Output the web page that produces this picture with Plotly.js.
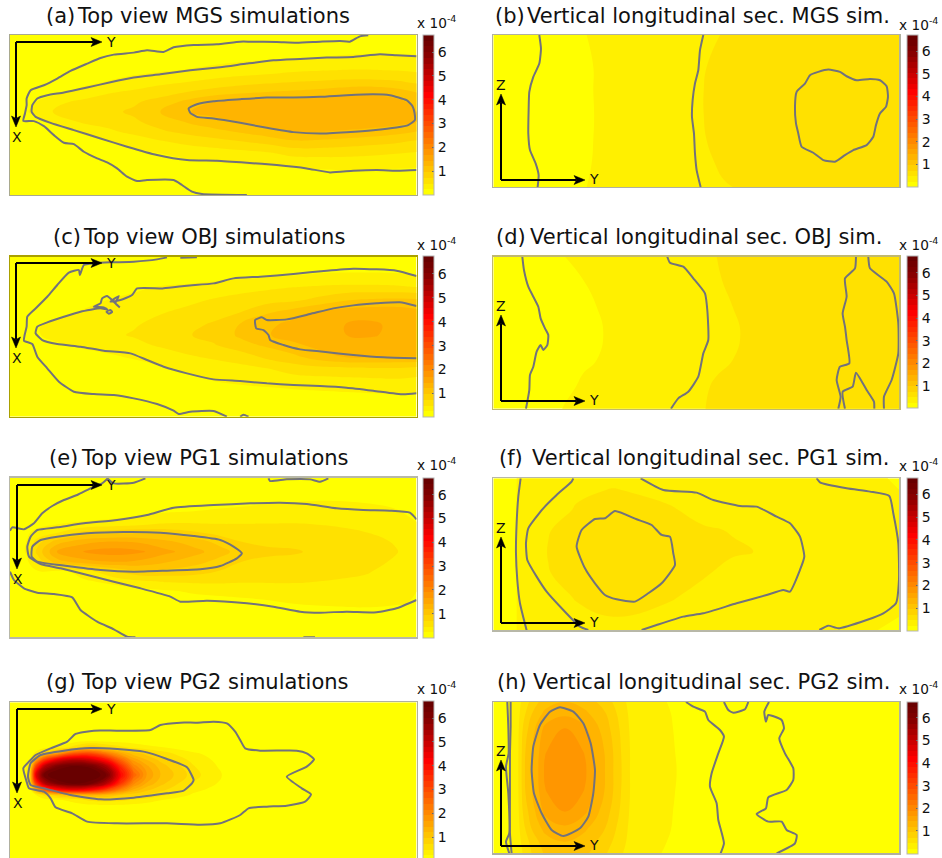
<!DOCTYPE html>
<html><head><meta charset="utf-8">
<script src="https://cdn.plot.ly/plotly-3.0.1.min.js"></script>
<style>html,body{margin:0;padding:0;width:942px;height:858px;overflow:hidden;background:#fff}#plot{width:942px;height:862px}</style>
</head><body><div id="plot"></div>
<script>
// Colour bands of the colour bar (0 to 6.72 x 10^-4)
const zMin = 0, zMax = 6.72, bandStep = 0.24;
const bandColors = ['#ffff00','#fff000','#ffe100','#ffd200','#ffc300','#ffb400','#ffa500','#ff9600','#ff8700','#ff7800','#ff6900','#ff5a00','#ff4b00','#ff3c00','#ff2d00','#ff1e00','#ff0f00','#ff0000','#ee0000','#dd0000','#cc0000','#bb0000','#aa0000','#990000','#880000','#7c0000','#720000','#680000'];
const cbTicks = [1,2,3,4,5,6];
const labels = ['(a)','(b)','(c)','(d)','(e)','(f)','(g)','(h)'];
const titles = ['Top view MGS simulations','Vertical longitudinal sec. MGS sim.','Top view OBJ simulations','Vertical longitudinal sec. OBJ sim.','Top view PG1 simulations','Vertical longitudinal sec. PG1 sim.','Top view PG2 simulations','Vertical longitudinal sec. PG2 sim.'];

// Panel (a)
const xA = [28,95,160,240,320,400,480,560,640,720,800,880,960,1040,1120,1200,1250];
const yA = [104,170,210,245,275,305,335,365,395,425,460,500,540,585];
const zA = [
[.02,.02,.02,.02,.03,.03,.04,.04,.05,.05,.06,.07,.07,.07,.07,.07,.07],
[.02,.03,.03,.04,.06,.08,.10,.12,.15,.18,.2,.22,.24,.26,.26,.26,.26],
[.02,.03,.05,.08,.12,.17,.21,.25,.3,.34,.38,.44,.47,.49,.49,.47,.44],
[.03,.05,.09,.14,.25,.33,.42,.48,.55,.62,.67,.72,.75,.78,.78,.74,.68],
[.04,.1,.15,.32,.45,.52,.6,.72,.82,.9,.96,1.0,1.05,1.12,1.15,1.05,.95],
[.05,.2,.42,.52,.6,.68,.82,1.02,1.2,1.27,1.3,1.28,1.3,1.32,1.3,1.25,1.1],
[.06,.28,.5,.6,.66,.76,.96,1.18,1.3,1.35,1.38,1.38,1.4,1.4,1.38,1.32,1.2],
[.05,.12,.3,.5,.58,.68,.82,.98,1.1,1.2,1.3,1.35,1.38,1.38,1.35,1.28,1.2],
[.04,.05,.13,.27,.42,.55,.68,.78,.88,.98,1.1,1.2,1.2,1.16,1.1,1.02,.95],
[.03,.04,.06,.12,.22,.32,.45,.55,.62,.7,.8,.92,.9,.85,.8,.74,.68],
[.02,.03,.04,.07,.1,.17,.24,.3,.35,.39,.44,.55,.56,.55,.52,.48,.45],
[.02,.02,.03,.04,.06,.08,.11,.15,.18,.2,.23,.25,.27,.28,.27,.26,.25],
[.02,.02,.02,.03,.03,.04,.05,.06,.07,.08,.09,.1,.11,.12,.12,.11,.11],
[.02,.02,.02,.02,.02,.03,.03,.03,.04,.04,.04,.04,.05,.05,.05,.05,.05]];
const linesA = [
[[1105,105],[1080,108],[1050,124],[1020,122],[960,124],[890,127],[830,125],[750,124],[720,124],[650,132],[580,134],[520,141],[490,155],[440,150],[400,157],[340,163],[300,173],[260,190],[210,212],[170,235],[130,255],[90,270],[78,295],[78,315],[73,340],[68,362],[100,363],[130,378],[160,405],[190,428],[220,432],[250,455],[290,475],[320,487],[350,505],[380,530],[410,543],[440,540],[520,540],[545,555],[575,575],[605,582],[740,585]],
[[1250,168],[1190,165],[1140,162],[1060,170],[980,172],[900,176],[820,180],[740,190],[660,201],[570,210],[480,222],[400,232],[330,246],[260,262],[190,277],[140,285],[110,295],[95,315],[93,335],[105,350],[150,368],[220,390],[300,415],[380,440],[470,465],[560,480],[650,482],[740,488],[830,495],[920,505],[990,517],[1060,512],[1130,510],[1200,512],[1250,510]],
[[565,325],[590,312],[640,303],[720,297],[800,292],[880,292],[960,290],[1040,285],[1120,282],[1170,285],[1220,300],[1238,318],[1245,345],[1245,360],[1225,375],[1190,382],[1120,390],[1040,396],[960,400],[880,396],[800,383],[720,368],[640,355],[590,350],[570,338],[565,325]]];

// Panel (b)
const xB = [70,200,350,380,500,650,710,760,900,980,1110,1250,1288];
const yB = [104,200,270,345,420,490,561];
const zB = [
[.03,.1,.24,.26,.31,.39,.44,.49,.52,.53,.54,.54,.53],
[.03,.11,.22,.25,.32,.41,.48,.51,.54,.56,.59,.58,.56],
[.03,.12,.22,.25,.33,.42,.49,.52,.56,.6,.63,.61,.57],
[.03,.12,.21,.25,.33,.42,.49,.52,.56,.6,.65,.6,.56],
[.03,.12,.22,.25,.33,.42,.48,.52,.55,.59,.63,.58,.55],
[.03,.11,.23,.25,.32,.41,.46,.5,.54,.56,.6,.56,.54],
[.03,.1,.24,.26,.31,.38,.43,.47,.52,.53,.54,.53,.52]];
const linesB = [
[[208,104],[213,145],[208,190],[190,230],[178,275],[176,330],[175,400],[180,450],[197,490],[206,525],[203,561]],
[[700,104],[690,150],[685,210],[675,250],[668,300],[666,350],[672,400],[675,460],[680,510],[692,561]],
[[1075,208],[1110,215],[1130,228],[1160,240],[1200,236],[1230,240],[1250,258],[1254,290],[1248,320],[1230,340],[1218,375],[1210,410],[1190,435],[1150,450],[1125,465],[1095,485],[1060,480],[1030,458],[995,440],[985,400],[978,370],[975,320],[980,275],[1005,250],[1020,225],[1045,215],[1075,208]]];

// Panel (c)
const xC = [28,95,160,240,320,400,480,560,640,720,800,880,960,1040,1120,1200,1250];
const yC = [110,165,200,240,280,315,345,375,410,445,480,520,560,590];
const zC = [
[.02,.02,.02,.02,.02,.03,.03,.04,.04,.04,.05,.05,.05,.05,.05,.05,.05],
[.02,.02,.03,.04,.05,.07,.09,.11,.13,.16,.19,.23,.26,.27,.27,.26,.24],
[.02,.03,.04,.07,.1,.19,.25,.28,.33,.38,.43,.47,.5,.52,.52,.5,.47],
[.02,.03,.06,.13,.24,.3,.36,.42,.5,.57,.62,.67,.8,.95,1.0,1.02,1.0],
[.03,.05,.15,.27,.33,.4,.47,.55,.65,.73,.95,1.12,1.28,1.35,1.38,1.36,1.3],
[.04,.2,.3,.36,.41,.46,.55,.66,.75,.98,1.15,1.27,1.36,1.45,1.47,1.38,1.25],
[.04,.2,.3,.38,.43,.5,.6,.7,.8,1.0,1.18,1.3,1.38,1.44,1.46,1.36,1.25],
[.03,.06,.2,.28,.34,.42,.51,.6,.7,.88,1.0,1.15,1.28,1.35,1.35,1.3,1.25],
[.03,.04,.07,.14,.2,.27,.36,.45,.52,.58,.78,.9,1.1,1.22,1.22,1.2,1.2],
[.03,.03,.05,.08,.1,.13,.2,.28,.35,.42,.48,.6,.65,.68,.7,.7,.66],
[.02,.03,.04,.05,.06,.08,.11,.17,.25,.3,.33,.37,.4,.42,.44,.45,.42],
[.02,.02,.03,.03,.04,.05,.06,.08,.1,.13,.16,.18,.2,.22,.24,.25,.25],
[.02,.02,.02,.03,.03,.03,.04,.04,.05,.05,.06,.07,.08,.08,.09,.09,.09],
[.02,.02,.02,.02,.02,.02,.03,.03,.03,.03,.03,.03,.04,.04,.04,.04,.04]];
const linesC = [
[[590,112],[540,113]],
[[500,112],[470,118],[400,125],[330,127],[280,130],[250,135],[238,165],[235,150],[205,158],[170,195],[140,230],[100,270],[80,290],[78,320],[72,345],[70,362],[95,372],[110,410],[140,445],[175,485],[220,515],[280,522],[340,525],[400,535],[470,552],[520,572],[535,582],[570,575],[640,573],[680,590]],
[[720,590],[730,584],[745,590]],
[[1250,168],[1190,152],[1130,148],[1060,146],[980,152],[880,162],[780,170],[700,175],[640,190],[560,197],[490,205],[410,205],[395,225],[360,240],[330,245],[355,228],[345,250],[358,262],[345,250],[320,228],[305,235],[300,250],[280,260],[310,262],[320,268],[300,265],[240,275],[190,290],[140,307],[110,320],[105,340],[125,360],[170,372],[240,380],[310,392],[390,400],[440,420],[490,440],[560,460],[640,478],[720,483],[800,490],[880,495],[960,498],[1040,503],[1120,512],[1210,523],[1250,520]],
[[318,275],[330,270],[335,276],[325,281],[318,275]],
[[1250,258],[1200,247],[1130,250],[1060,256],[1000,265],[930,282],[860,298],[800,300],[785,292],[765,300],[768,325],[790,330],[805,345],[810,360],[850,375],[900,388],[970,395],[1060,405],[1150,412],[1250,415]]];

// Panel (d)
const xD = [70,160,285,340,400,600,720,740,820,1000,1288];
const yD = [110,180,260,340,420,500,566];
const zD = [
[.03,.1,.24,.27,.31,.38,.46,.48,.52,.56,.58],
[.03,.11,.21,.24,.3,.4,.45,.47,.52,.57,.6],
[.03,.12,.18,.22,.25,.4,.44,.45,.5,.57,.62],
[.03,.12,.17,.21,.24,.4,.43,.44,.485,.57,.62],
[.03,.12,.18,.22,.25,.4,.44,.45,.5,.57,.61],
[.03,.11,.21,.26,.3,.4,.48,.5,.53,.56,.58],
[.03,.1,.25,.28,.32,.4,.49,.51,.53,.55,.56]];
const linesD = [
[[157,110],[162,150],[175,200],[205,260],[212,295],[225,325],[235,345],[232,375],[220,390],[212,375],[200,395],[190,440],[180,465],[178,510],[168,566]],
[[592,110],[600,128],[640,140],[670,175],[705,220],[712,270],[715,360],[700,400],[685,470],[655,515],[625,535],[603,566]],
[[1158,110],[1155,145],[1125,175],[1130,230],[1118,280],[1125,320],[1130,360],[1138,430],[1110,440],[1100,480],[1112,530],[1105,566]],
[[1125,566],[1118,515],[1148,500],[1158,458],[1190,510],[1212,545],[1213,566]],
[[1195,110],[1200,145],[1250,185],[1272,220],[1285,310],[1285,400],[1265,480],[1242,530],[1242,566]]];

// Panel (e)
const xE = [28,80,110,170,250,340,420,500,580,660,725,800,890,1000,1100,1190,1250];
const yE = [113,190,225,255,280,305,335,365,395,425,455,490,530,592];
const zE = [
[.02,.02,.02,.02,.03,.03,.03,.03,.04,.04,.04,.05,.05,.05,.05,.05,.04],
[.03,.03,.03,.04,.05,.06,.07,.09,.12,.17,.2,.23,.25,.26,.24,.2,.13],
[.03,.04,.05,.07,.09,.14,.22,.28,.3,.33,.34,.36,.38,.38,.35,.28,.2],
[.03,.1,.2,.25,.33,.4,.47,.52,.52,.5,.5,.5,.5,.47,.42,.33,.26],
[.04,.22,.3,.5,.85,.92,.95,.92,.78,.65,.6,.58,.57,.54,.49,.38,.3],
[.05,.25,.6,1.1,1.35,1.45,1.4,1.25,1.08,.88,.72,.68,.66,.6,.55,.46,.34],
[.06,.27,.8,1.45,1.7,1.8,1.72,1.5,1.3,1.05,.85,.76,.74,.62,.57,.49,.36],
[.05,.2,.55,1.1,1.35,1.45,1.38,1.22,1.05,.88,.72,.68,.65,.6,.55,.45,.33],
[.03,.05,.2,.15,.35,.7,.9,.88,.82,.7,.62,.6,.6,.56,.5,.38,.3],
[.03,.03,.05,.12,.2,.3,.42,.5,.52,.52,.5,.5,.5,.46,.42,.33,.26],
[.02,.03,.04,.05,.07,.1,.14,.2,.27,.3,.32,.34,.36,.36,.34,.28,.24],
[.02,.02,.03,.04,.04,.05,.06,.08,.1,.14,.17,.2,.25,.28,.3,.26,.22],
[.02,.02,.02,.03,.03,.04,.04,.05,.06,.08,.09,.1,.1,.1,.1,.1,.09],
[.02,.02,.02,.02,.02,.02,.03,.03,.03,.03,.03,.03,.04,.04,.04,.04,.03]];
const linesE = [
[[435,115],[400,128],[340,130],[322,116]],
[[322,115],[305,130],[270,145],[230,165],[190,180],[155,198],[125,220],[100,250],[70,268],[35,262],[28,272]],
[[28,395],[40,420],[70,445],[110,458],[160,462],[215,472],[240,510],[290,545],[340,568],[380,590],[405,592]],
[[910,592],[945,592]],
[[805,115],[810,123],[860,118],[930,118],[960,125],[985,115]],
[[1250,238],[1230,218],[1170,212],[1090,210],[1010,205],[920,192],[840,188],[750,190],[640,195],[520,203],[440,225],[350,240],[250,250],[170,262],[110,270],[90,290],[80,320],[85,350],[120,372],[180,385],[240,400],[340,425],[420,445],[510,470],[540,485],[620,482],[740,490],[820,500],[900,515],[960,518],[1040,515],[1130,517],[1190,505],[1250,480]],
[[725,340],[700,320],[660,300],[580,288],[480,278],[370,276],[260,280],[170,290],[120,300],[95,320],[93,350],[110,365],[200,378],[300,390],[400,395],[500,392],[600,388],[660,378],[710,355],[725,340]]];

// Panel (f)
const xF = [70,120,145,235,320,430,600,700,790,850,1000,1200,1288];
const yF = [115,150,210,270,335,400,470,530,571];
const zF = [
[.1,.2,.25,.33,.38,.42,.38,.35,.33,.32,.3,.27,.22],
[.1,.2,.25,.35,.44,.49,.42,.38,.35,.33,.31,.28,.24],
[.1,.2,.25,.38,.5,.58,.5,.42,.37,.35,.33,.3,.26],
[.1,.2,.25,.47,.56,.62,.6,.5,.47,.38,.34,.31,.27],
[.1,.2,.25,.49,.6,.66,.62,.55,.5,.48,.35,.31,.27],
[.1,.2,.25,.47,.57,.63,.6,.5,.42,.38,.34,.31,.27],
[.1,.2,.25,.38,.5,.6,.5,.42,.37,.35,.33,.3,.26],
[.1,.2,.25,.34,.42,.48,.42,.38,.35,.33,.31,.28,.24],
[.1,.2,.25,.31,.35,.38,.36,.34,.32,.3,.28,.25,.21]];
const linesF = [
[[152,115],[145,170],[140,250],[138,340],[142,420],[150,490],[170,571]],
[[310,115],[305,125],[260,165],[220,205],[175,265],[168,310],[172,360],[200,410],[230,455],[280,510],[330,560],[355,570]],
[[512,115],[580,150],[680,158],[730,180],[810,198],[860,200],[920,230],[960,250],[990,290],[1003,350],[990,390],[960,455],[940,450],[890,465],[800,490],[700,520],[640,530],[560,555],[515,570]],
[[1040,115],[1050,127],[1130,145],[1200,155],[1258,168],[1270,220],[1285,310],[1287,420],[1278,490],[1240,520],[1190,540],[1105,565],[1075,557],[1048,570]],
[[435,213],[500,238],[545,255],[575,285],[600,290],[610,340],[615,375],[575,430],[535,460],[495,485],[440,478],[405,465],[375,430],[345,385],[320,320],[335,270],[375,237],[405,235],[435,213]]];

// Panel (g)
const xG = [28,75,90,105,130,170,220,270,320,360,400,440,480,530,580,620,665,720,1250];
const yG = [127,240,262,280,300,320,345,370,390,405,420,440,490,603];
const zG = [
[.01,.01,.01,.01,.01,.01,.01,.01,.01,.01,.01,.01,.01,.01,.01,.01,.01,.01,.01],
[.01,.01,.01,.02,.02,.03,.05,.08,.1,.1,.1,.09,.08,.06,.04,.03,.02,.01,.01],
[.02,.04,.05,.08,.12,.25,.6,.95,.7,.55,.4,.3,.25,.15,.1,.06,.04,.02,.01],
[.02,.05,.1,.3,.8,1.6,2.8,3.0,2.2,1.5,1.05,.85,.62,.42,.27,.2,.1,.03,.01],
[.02,.07,.3,1.5,3.2,4.6,5.2,4.9,3.9,2.6,1.6,1.2,.9,.62,.4,.28,.15,.03,.01],
[.02,.1,.8,3.2,5.2,6.2,6.6,6.4,5.4,3.6,2.1,1.5,1.1,.8,.5,.33,.2,.03,.01],
[.02,.12,1.1,4.5,6.3,6.9,7.0,6.9,6.2,4.2,2.6,1.65,1.2,.9,.6,.38,.24,.03,.01],
[.02,.1,.8,3.2,5.2,6.2,6.6,6.3,5.2,3.4,2.0,1.4,1.05,.75,.45,.32,.2,.03,.01],
[.02,.05,.25,1.2,2.6,3.9,4.4,4.0,3.0,2.1,1.35,1.0,.8,.55,.3,.22,.1,.02,.01],
[.02,.03,.06,.2,.55,.9,1.2,1.3,1.2,.95,.8,.7,.55,.35,.2,.15,.05,.02,.01],
[.01,.02,.03,.05,.1,.2,.33,.55,.58,.55,.45,.35,.25,.15,.08,.05,.02,.01,.01],
[.01,.01,.02,.02,.03,.05,.08,.1,.12,.12,.1,.08,.06,.04,.02,.02,.01,.01,.01],
[.01,.01,.01,.01,.01,.01,.02,.02,.02,.02,.02,.02,.01,.01,.01,.01,.01,.01,.01],
[.01,.01,.01,.01,.01,.01,.01,.01,.01,.01,.01,.01,.01,.01,.01,.01,.01,.01,.01]];
const linesG = [
[[640,185],[680,190],[705,215],[720,240],[735,265],[780,272],[890,272],[920,280],[942,298],[920,320],[860,350],[905,385],[933,403],[915,425],[860,437],[800,440],[745,445],[720,465],[660,490],[600,494],[500,490],[350,490],[260,485],[215,460],[165,442],[150,415],[130,395],[85,385],[78,365],[68,325],[85,305],[105,285],[150,265],[200,245],[225,222],[280,212],[350,212],[450,210],[480,195],[540,188],[590,188],[640,185]],
[[580,360],[560,322],[500,297],[430,275],[350,267],[270,264],[190,272],[120,285],[90,310],[82,350],[90,375],[130,385],[210,405],[300,418],[400,413],[500,400],[550,392],[575,370],[580,360]]];

// Panel (h)
const xH = [70,120,145,165,185,205,225,285,345,375,405,430,455,480,615,680,1288];
const yH = [126,160,205,270,335,400,455,510,545,580];
const zH = [
[.02,.2,.4,.6,.8,.95,1.1,1.2,1.1,.98,.85,.7,.55,.42,.2,.1,.02],
[.02,.22,.42,.7,.95,1.12,1.25,1.38,1.25,1.12,.98,.8,.6,.44,.22,.1,.02],
[.02,.23,.45,.85,1.08,1.3,1.5,1.68,1.48,1.28,1.08,.88,.66,.46,.23,.11,.02],
[.02,.24,.47,.94,1.18,1.4,1.66,1.82,1.66,1.4,1.18,.95,.7,.48,.24,.12,.02],
[.02,.24,.48,.96,1.2,1.44,1.72,1.88,1.72,1.44,1.2,.96,.72,.48,.25,.12,.02],
[.02,.24,.47,.94,1.18,1.4,1.66,1.82,1.66,1.4,1.18,.95,.7,.48,.24,.12,.02],
[.02,.23,.45,.85,1.08,1.3,1.5,1.68,1.48,1.28,1.08,.88,.66,.46,.23,.11,.02],
[.02,.22,.42,.7,.95,1.12,1.25,1.36,1.22,1.1,.95,.78,.58,.44,.22,.1,.02],
[.02,.2,.4,.6,.8,.95,1.1,1.2,1.1,.98,.85,.7,.55,.42,.2,.1,.02],
[.02,.18,.36,.55,.72,.85,1.0,1.08,1.0,.9,.75,.62,.5,.38,.18,.09,.02]];
const linesH = [
[[112,126],[115,200],[116,280],[108,320],[115,400],[118,520],[108,545],[118,580]],
[[122,126],[122,200],[120,280],[120,400],[120,520],[125,580]],
[[270,142],[310,155],[340,190],[362,250],[375,330],[370,400],[355,470],[330,505],[280,528],[245,510],[215,460],[192,400],[185,330],[190,260],[210,195],[240,155],[270,142]],
[[648,126],[670,140],[705,155],[715,180],[750,210],[762,230],[745,280],[725,340],[720,380],[740,430],[745,480],[762,550],[752,580]],
[[762,126],[775,150],[790,158],[825,148],[835,126]],
[[897,126],[883,155],[888,185],[895,165],[935,180],[942,205],[928,235],[945,280],[970,325],[970,360],[950,390],[895,412],[888,445],[860,462],[895,485],[935,485],[950,510],[980,525],[975,550],[920,580]]];

// ---- page geometry -------------------------------------------------------
const W = 942, H = 862;
const px = v => v / W, py = v => 1 - v / H;
const stops = [];
bandColors.forEach((c, i) => { stops.push([i / bandColors.length, c]); stops.push([(i + 1) / bandColors.length, c]); });

const panels = [
 {x:xA,y:yA,z:zA,lines:linesA,box:[10,35,416.5,195],cb:[423,35,160],rx:[28,1250],ry:[585,104],lab:[46,16],tit:[77,16],unit:[417,22],corner:[16,42],tipA:127,tipB:102,side:false,edge:'#a9a98e'},
 {x:xB,y:yB,z:zB,lines:linesB,box:[493.3,35,899.3,187],cb:[906.5,35,152],rx:[70,1288],ry:[561,104],lab:[495,16],tit:[527,16],unit:[899,24],corner:[501,180],tipA:94,tipB:585,side:true,edge:'#b0b0a0'},
 {x:xC,y:yC,z:zC,lines:linesC,box:[10,256.7,416.5,416.7],cb:[423,256.5,160.5],rx:[28,1250],ry:[590,110],lab:[53,237],tit:[83,237],unit:[417,244],corner:[16,263],tipA:348,tipB:102,side:false,edge:'#aaa000'},
 {x:xD,y:yD,z:zD,lines:linesD,box:[493.3,256.7,899.3,408.7],cb:[906.5,256.5,152],rx:[70,1288],ry:[566,110],lab:[496,237],tit:[530,237],unit:[899,244],corner:[501,401],tipA:315,tipB:585,side:true,edge:'#c0b870'},
 {x:xE,y:yE,z:zE,lines:linesE,box:[10,477.7,416.5,637.3],cb:[423,477.5,160],rx:[28,1250],ry:[592,113],lab:[49,458],tit:[81,458],unit:[417,464],corner:[17,485],tipA:569,tipB:102,side:false,edge:'#b8b8a8'},
 {x:xF,y:yF,z:zF,lines:linesF,box:[493.3,478.3,899.3,630.3],cb:[906.5,478,152.5],rx:[70,1288],ry:[571,115],lab:[499,458],tit:[532,458],unit:[899,465],corner:[501,623],tipA:537,tipB:585,side:true,edge:'#b8b8a8'},
 {x:xG,y:yG,z:zG,lines:linesG,box:[10,702.3,416.5,861],cb:[423,701,160],rx:[28,1250],ry:[603,127],lab:[46,682],tit:[81,682],unit:[417,688],corner:[17,709],tipA:793,tipB:102,side:false,edge:'#b0b0a0'},
 {x:xH,y:yH,z:zH,lines:linesH,box:[493.3,702,899.3,853.3],cb:[906.5,701.5,152],rx:[70,1288],ry:[580,126],lab:[497,682],tit:[533,682],unit:[899,688],corner:[501,846],tipA:760,tipB:585,side:true,edge:'#b0b0a0'}
];

const FONT = 'DejaVu Sans';
const traces = [], annotations = [], shapes = [];
const layout = {width:W,height:H,margin:{l:0,r:0,t:0,b:0},paper_bgcolor:'#fff',plot_bgcolor:'#fff',showlegend:false,font:{family:FONT,color:'#111'}};
const text = (t, x, y, size, anchor) => annotations.push({text:t,xref:'paper',yref:'paper',x:px(x),y:py(y),xanchor:anchor||'left',yanchor:'middle',showarrow:false,font:{family:FONT,size:size,color:'#111'},borderpad:0,borderwidth:0});
// Axis triad arrows: a shaft and a notched head, in page units
const arrow = (x0,y0,x1,y1) => {
  const d = Math.hypot(x1-x0,y1-y0), ux = (x1-x0)/d, uy = (y1-y0)/d, nx = -uy, ny = ux;
  const L = 11, W2 = 4.5, N = 8.5;
  shapes.push({type:'line',xref:'paper',yref:'paper',x0:px(x0),y0:py(y0),x1:px(x1-ux*N),y1:py(y1-uy*N),line:{color:'#000',width:2}});
  const pt = (a,b) => px(x1-ux*a+nx*b)+' '+py(y1-uy*a+ny*b);
  shapes.push({type:'path',xref:'paper',yref:'paper',path:'M '+pt(0,0)+' L '+pt(L,W2)+' L '+pt(N,0)+' L '+pt(L,-W2)+' Z',fillcolor:'#000',line:{color:'#000',width:0.5}});
};

panels.forEach((p,i) => {
  const n = i ? String(i+1) : '';
  const xk = 'xaxis'+n, yk = 'yaxis'+n, xr = 'x'+n, yr = 'y'+n;
  layout[xk] = {domain:[px(p.box[0]),px(p.box[2])],range:p.rx,anchor:yr,showgrid:false,zeroline:false,showticklabels:false,ticks:'',showline:true,mirror:true,linecolor:p.edge,linewidth:1.3,fixedrange:true};
  layout[yk] = {domain:[py(p.box[3]),py(p.box[1])],range:p.ry,anchor:xr,showgrid:false,zeroline:false,showticklabels:false,ticks:'',showline:true,mirror:true,linecolor:p.edge,linewidth:1.3,fixedrange:true};
  traces.push({type:'contour',x:p.x,y:p.y,z:p.z,xaxis:xr,yaxis:yr,zmin:zMin,zmax:zMax,autocontour:false,colorscale:stops,hoverinfo:'skip',
    contours:{coloring:'fill',showlines:false,start:bandStep,end:zMax-bandStep,size:bandStep},line:{smoothing:1.3,width:0},
    colorbar:{x:px(p.cb[0]),xanchor:'left',y:py(p.cb[1]),yanchor:'top',lenmode:'pixels',len:p.cb[2],thicknessmode:'pixels',thickness:11,xpad:0,ypad:0,outlinecolor:'#b5b5b5',outlinewidth:1,borderwidth:0,tickmode:'array',tickvals:cbTicks,ticktext:cbTicks.map(String),ticks:'inside',ticklen:2,tickcolor:'#666',tickwidth:1,tickfont:{family:FONT,size:14,color:'#111'}}});
  p.lines.forEach(l => traces.push({type:'scatter',mode:'lines',x:l.map(q=>q[0]),y:l.map(q=>q[1]),xaxis:xr,yaxis:yr,line:{color:'#72727c',width:2,shape:'spline',smoothing:0.5},hoverinfo:'skip'}));
  text(labels[i],p.lab[0],p.lab[1],21);
  text(titles[i],p.tit[0],p.tit[1],21);
  text('x 10<sup>-4</sup>',p.unit[0],p.unit[1],13.7);
  const c = p.corner;
  if (p.side) {
    arrow(c[0],c[1],c[0],p.tipA); arrow(c[0],c[1],p.tipB,c[1]);
    text('Z',c[0],p.tipA-9,14,'center'); text('Y',p.tipB+9,c[1]-1,14,'center');
  } else {
    arrow(c[0],c[1],p.tipB,c[1]); arrow(c[0],c[1],c[0],p.tipA);
    text('Y',p.tipB+9,c[1],14,'center'); text('X',c[0]+1,p.tipA+10,14,'center');
  }
});
layout.annotations = annotations;
layout.shapes = shapes;
Plotly.newPlot('plot',traces,layout,{staticPlot:true,displayModeBar:false}).then(gd => {
  // Drop the empty placeholder text nodes the library leaves behind
  gd.querySelectorAll('text').forEach(t => { if (!t.textContent.trim()) t.remove(); });
});
</script></body></html>
